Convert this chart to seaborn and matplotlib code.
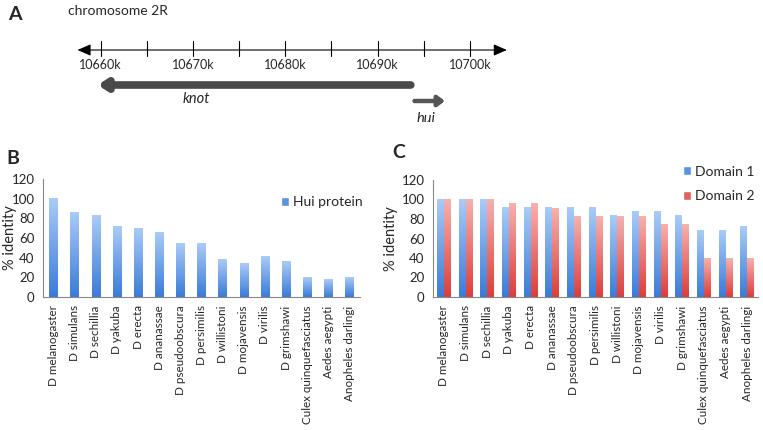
import numpy as np
import pandas as pd
import seaborn as sns
import matplotlib.pyplot as plt
from matplotlib.colors import LinearSegmentedColormap
from matplotlib.patches import Patch

# species and % identity values
species = ["D melanogaster", "D simulans", "D sechillia", "D yakuba", "D erecta",
           "D ananassae", "D pseudoobscura", "D persimilis", "D willistoni",
           "D mojavensis", "D virilis", "D grimshawi", "Culex quinquefasciatus",
           "Aedes aegypti", "Anopheles darlingi"]
hui_protein = [100, 86, 83, 72, 70, 66, 54, 54, 38, 34, 41, 36, 20, 18, 20]
domain1 = [100, 100, 100, 92, 92, 92, 92, 92, 84, 88, 88, 84, 68, 68, 72]
domain2 = [100, 100, 100, 96, 96, 91, 83, 83, 83, 83, 74, 74, 39, 39, 39]

# chromosome 2R region (kb)
kb_ticks = [10660, 10665, 10670, 10675, 10680, 10685, 10690, 10695, 10700]
kb_labels = [10660, 10670, 10680, 10690, 10700]
axis_span = (10657.5, 10704.0)
knot_span = (10693.6, 10659.7)   # minus strand
hui_span = (10694.0, 10697.3)

sns.set_style("white")
plt.rcParams['font.family'] = ['Lato', 'DejaVu Sans']

BLUE = ("#a9cbf7", "#3b7bd8")
RED = ("#f6b1ae", "#dc3e3b")


def gradient_bars(ax, patches, top_bot):
    cmap = LinearSegmentedColormap.from_list("g", [top_bot[1], top_bot[0]])
    grad = np.linspace(0, 1, 64).reshape(-1, 1)
    for p in patches:
        x, y = p.get_x(), p.get_y()
        w, h = p.get_width(), p.get_height()
        ax.imshow(grad, extent=[x, x + w, y, y + h], origin="lower",
                  aspect="auto", cmap=cmap, zorder=p.get_zorder())
        p.set_facecolor("none")
        p.set_edgecolor("none")


def style_axes(ax, label_x):
    n = len(species)
    ax.set_xlim(-0.5, n - 0.5)
    ax.set_ylim(0, 120)
    ax.set_yticks(range(0, 121, 20))
    ax.set_xticks(range(n))
    ax.set_xticklabels(species, rotation=90, fontsize=8.4)
    ax.set_xticks(np.arange(-0.5, n, 1), minor=True)
    ax.tick_params(axis="x", which="major", length=0, pad=6)
    ax.tick_params(axis="x", which="minor", length=4, color="#888888", width=0.8)
    ax.tick_params(axis="y", length=4, color="#888888", width=0.8, labelsize=9.5, pad=2)
    ax.set_xlabel("")
    ax.set_ylabel("% identity", fontsize=10.5)
    ax.yaxis.set_label_coords(label_x, 0.5)
    for s in ["top", "right"]:
        ax.spines[s].set_visible(False)
    for s in ["left", "bottom"]:
        ax.spines[s].set_color("#888888")
        ax.spines[s].set_linewidth(0.8)


fig = plt.figure(figsize=(7.63, 4.30), dpi=100)

# ---- panel A: gene map
ax_a = fig.add_axes([0, 1 - 122 / 430, 1, 122 / 430])
ax_a.set_xlim(10649.1, 10731.75)
ax_a.set_ylim(122, 0)
ax_a.axis("off")
ax_a.annotate("", xy=(axis_span[0], 50), xytext=(axis_span[1], 50),
              arrowprops=dict(arrowstyle="<|-|>,head_width=0.35,head_length=0.8",
                              color="black", lw=0.8, shrinkA=0, shrinkB=0))
for t in kb_ticks:
    ax_a.plot([t, t], [41, 56], color="black", lw=0.8)
for t in kb_labels:
    ax_a.text(t, 65, f"{t}k", ha="center", va="center", fontsize=9)
ax_a.annotate("", xy=(knot_span[1], 85), xytext=(knot_span[0], 85),
              arrowprops=dict(arrowstyle="-|>,head_width=0.3,head_length=0.45",
                              color="#4a4a4a", lw=5.5, shrinkA=0, shrinkB=0))
ax_a.annotate("", xy=(hui_span[1], 101), xytext=(hui_span[0], 101),
              arrowprops=dict(arrowstyle="-|>,head_width=0.3,head_length=0.4",
                              color="#555555", lw=3.2, shrinkA=0, shrinkB=0))
ax_a.text(10670.4, 99, "knot", style="italic", ha="center", va="center", fontsize=10.5)
ax_a.text(10694.2, 119, "hui", style="italic", ha="left", va="center", fontsize=10.5,
          clip_on=True)
fig.text(8 / 763, 1 - 14 / 430, "A", fontsize=14, fontweight="bold", va="center")
fig.text(68 / 763, 1 - 11 / 430, "chromosome 2R", fontsize=10, va="center")

# ---- panel B
ax_b = fig.add_axes([43 / 763, 1 - 297 / 430, 317 / 763, 118 / 430])
df_b = pd.DataFrame({"species": species, "identity": hui_protein})
sns.barplot(data=df_b, x="species", y="identity", color=BLUE[1], width=0.4, ax=ax_b)
gradient_bars(ax_b, list(ax_b.patches), BLUE)
style_axes(ax_b, -0.083)
ax_b.legend(handles=[Patch(facecolor="#5a93e2")], labels=["Hui protein"],
            loc="upper left", bbox_to_anchor=(0.71, 0.96), frameon=False,
            fontsize=10, handlelength=0.6, handleheight=0.6, handletextpad=0.3)
fig.text(6 / 763, 1 - 158 / 430, "B", fontsize=14, fontweight="bold", va="center")

# ---- panel C
ax_c = fig.add_axes([433 / 763, 1 - 297 / 430, 325 / 763, 117 / 430])
df_c = pd.DataFrame({
    "species": species * 2,
    "identity": domain1 + domain2,
    "domain": ["Domain 1"] * len(species) + ["Domain 2"] * len(species),
})
sns.barplot(data=df_c, x="species", y="identity", hue="domain",
            palette=[BLUE[1], RED[1]], width=0.62, ax=ax_c, legend=False)
bars = list(ax_c.patches)
gradient_bars(ax_c, bars[:len(species)], BLUE)
gradient_bars(ax_c, bars[len(species):], RED)
style_axes(ax_c, -0.107)
ax_c.legend(handles=[Patch(facecolor="#5a93e2"), Patch(facecolor="#e2605c")],
            labels=["Domain 1", "Domain 2"], loc="upper left",
            bbox_to_anchor=(0.73, 1.23), frameon=False, fontsize=10,
            handlelength=0.6, handleheight=0.6, handletextpad=0.3, labelspacing=0.9)
fig.text(392 / 763, 1 - 152 / 430, "C", fontsize=14, fontweight="bold", va="center")

fig.savefig("out.png", dpi=100)
